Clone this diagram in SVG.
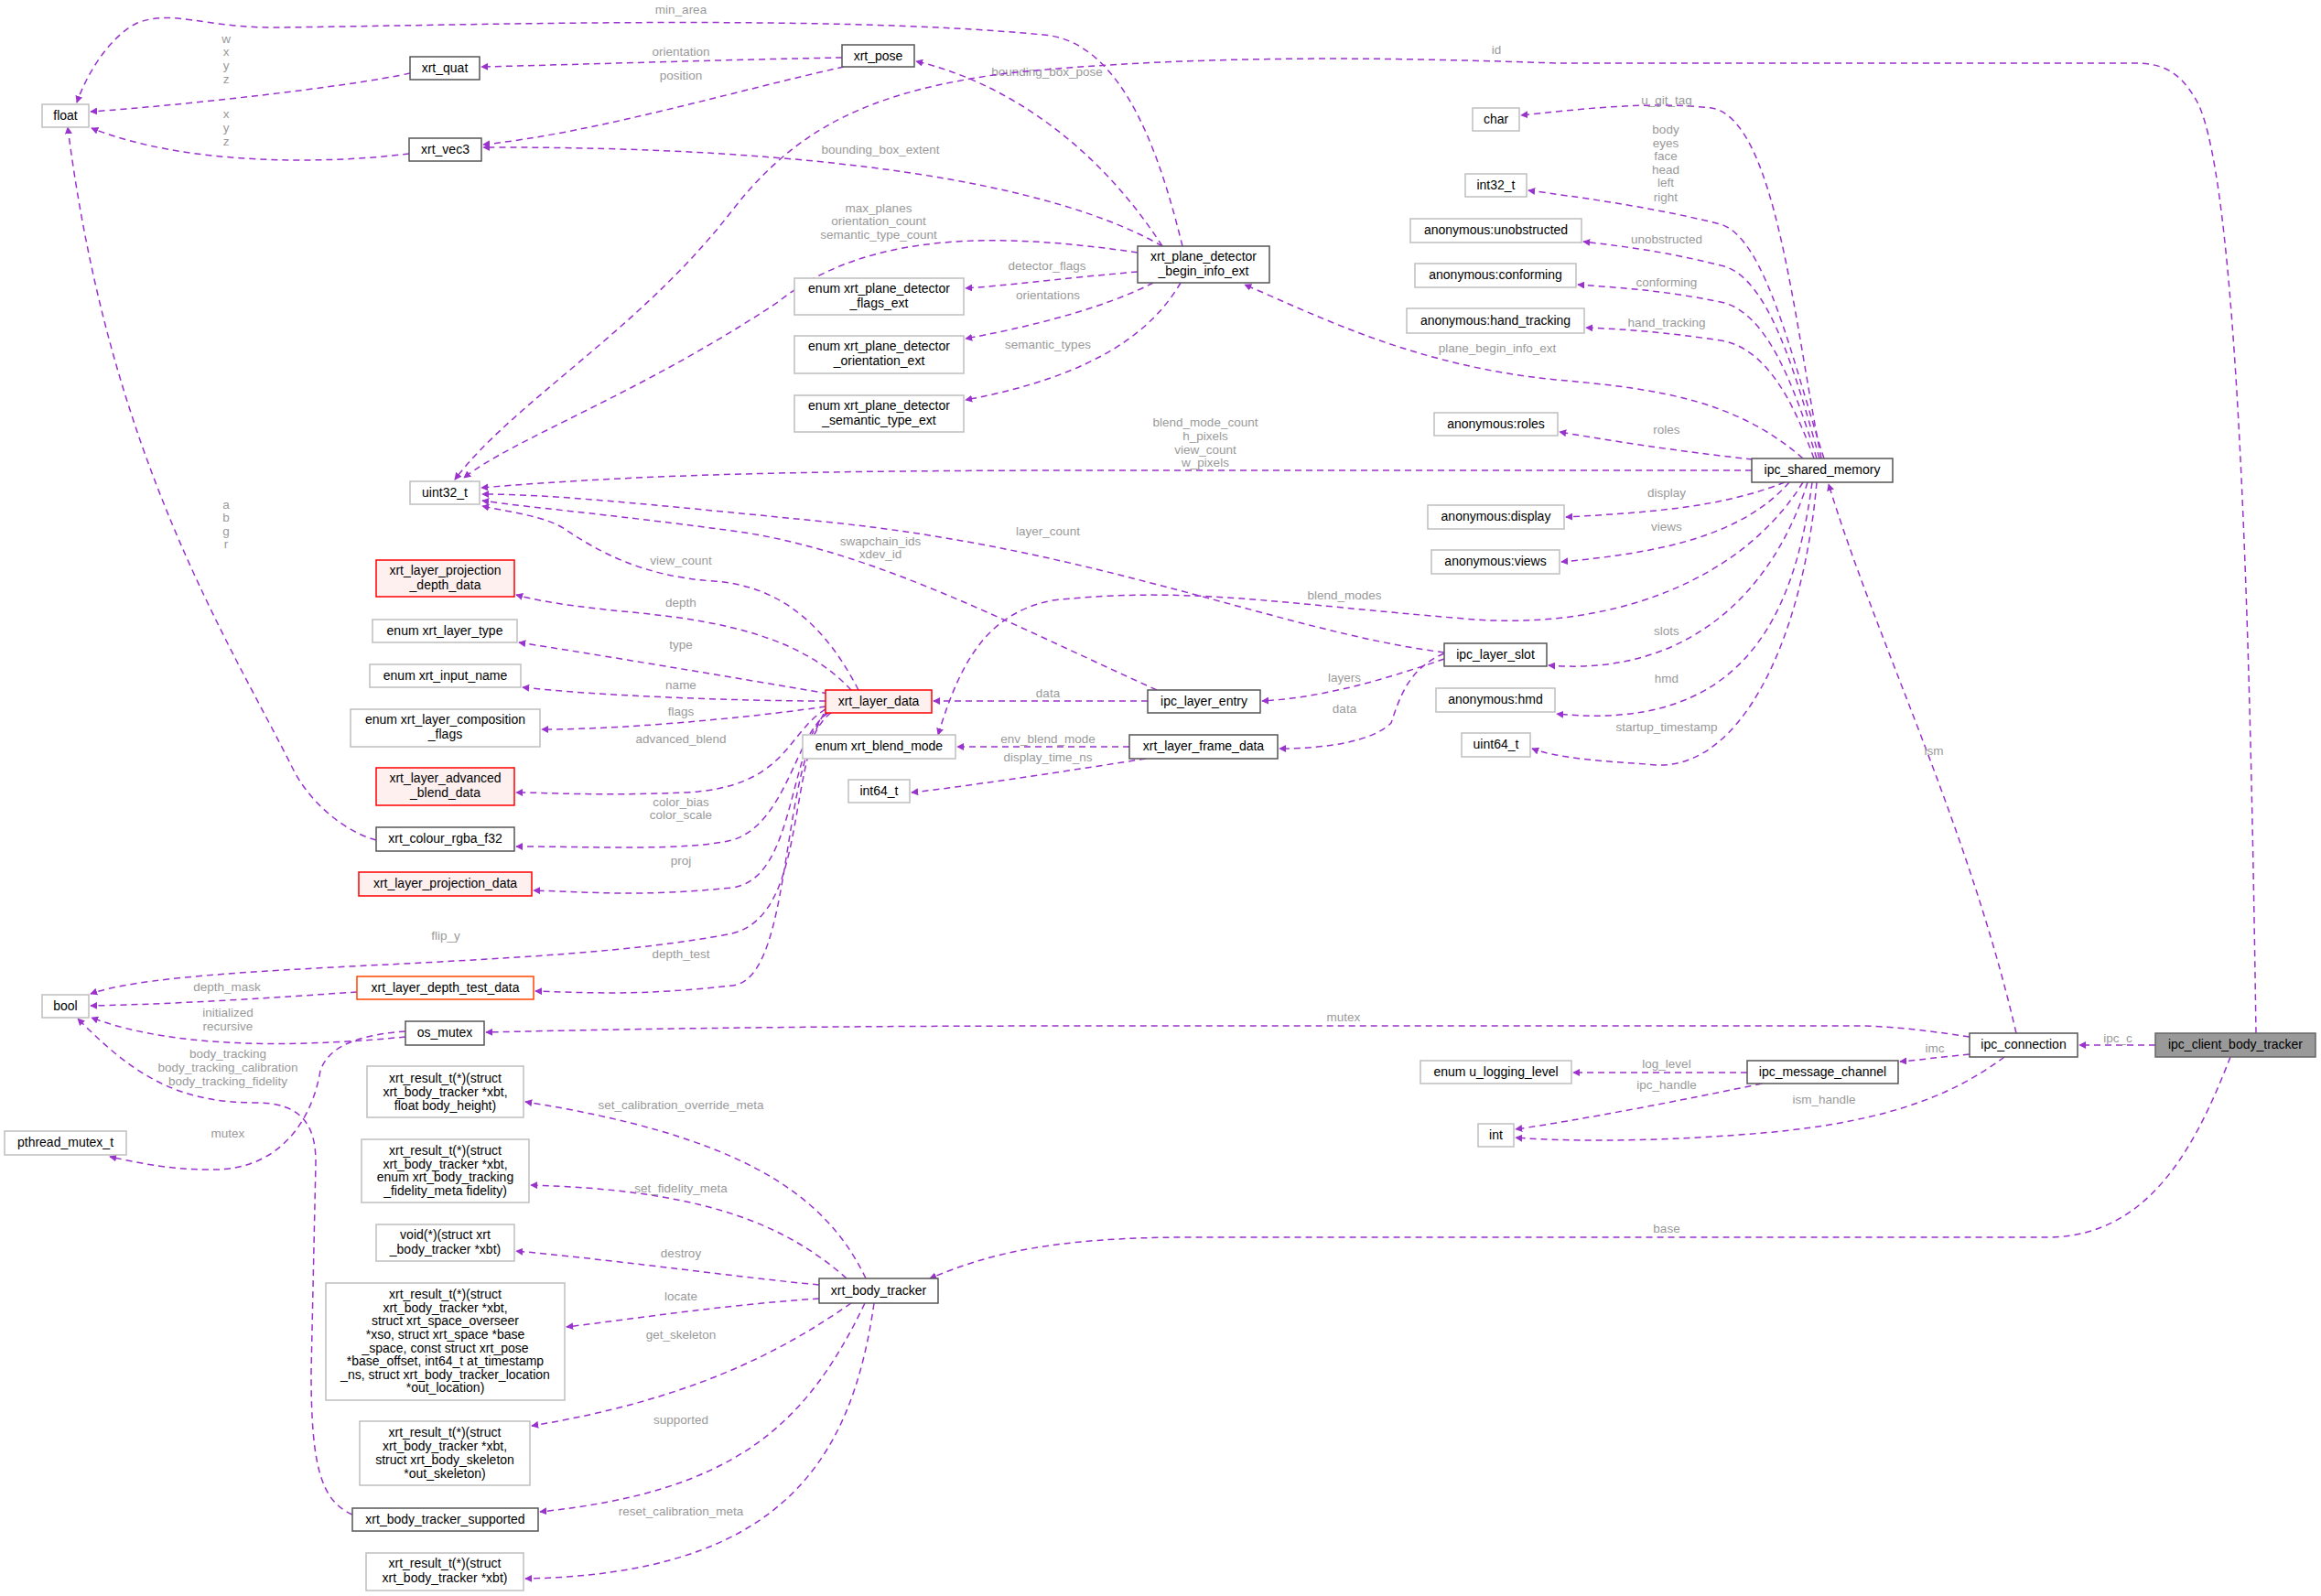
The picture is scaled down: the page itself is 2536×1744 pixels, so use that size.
<svg xmlns="http://www.w3.org/2000/svg" width="2536" height="1744" viewBox="0 0 2536 1744">
<style>
text{font-family:"Liberation Sans",Arial,sans-serif}
.n text{font-size:14px;fill:#000;text-anchor:middle}
.g rect{fill:#fff;stroke:#bfbfbf;stroke-width:1.5}
.d rect{fill:#fff;stroke:#555;stroke-width:1.5}
.r rect{fill:#fff0f0;stroke:#ff0000;stroke-width:1.5}
.o rect{fill:#fff;stroke:#ff4500;stroke-width:1.5}
.e path{fill:none;stroke:#9a32cd;stroke-width:1.5;stroke-dasharray:7,5;marker-end:url(#a)}
.e text{font-size:13.5px;fill:#9a9a9a;text-anchor:middle}
</style>
<defs><marker id="a" viewBox="0 0 10 10" refX="9" refY="5" markerWidth="8" markerHeight="8" orient="auto" markerUnits="userSpaceOnUse"><path d="M0,0 L10,5 L0,10 z" fill="#9a32cd"/></marker></defs>
<rect width="2536" height="1744" fill="#fff"/>
<g class="e" id="edges">
<path d="M1292,269 C1270,180 1230,45 1140,38 C900,15 500,28 300,30 C220,30 190,10 150,25 C120,40 95,80 84,112"/><text x="744" y="15">min_area</text>
<path d="M448,80 C380,95 200,115 99,122"/><text x="247" y="47">w</text><text x="247" y="61">x</text><text x="247" y="76">y</text><text x="247" y="91">z</text>
<path d="M447,168 C350,180 200,180 100,140"/><text x="247" y="129">x</text><text x="247" y="144">y</text><text x="247" y="159">z</text>
<path d="M920,63 C800,65 650,70 526,73"/><text x="744" y="61">orientation</text>
<path d="M922,73 C800,100 650,145 528,158"/><text x="744" y="87">position</text>
<path d="M1270,269 C1200,160 1100,90 1001,67"/><text x="1144" y="83">bounding_box_pose</text>
<path d="M1270,269 C1150,200 900,160 528,161"/><text x="962" y="168">bounding_box_extent</text>
<path d="M1243,276 C1100,255 950,250 850,330 C700,430 560,480 507,522"/><text x="960" y="232">max_planes</text><text x="960" y="246">orientation_count</text><text x="960" y="261">semantic_type_count</text>
<path d="M1243,297 C1150,305 1100,312 1055,315"/><text x="1144" y="295">detector_flags</text>
<path d="M1260,309 C1200,340 1110,360 1055,370"/><text x="1145" y="327">orientations</text>
<path d="M1290,309 C1260,360 1200,410 1055,437"/><text x="1145" y="381">semantic_types</text>
<path d="M2465,1129 C2460,800 2450,200 2400,110 C2380,75 2360,69 2330,69 L1700,69 C1500,62 1300,60 1100,80 C950,100 870,140 800,230 C700,360 560,440 497,524"/><text x="1635" y="59">id</text>
<path d="M1990,501 C1960,350 1940,130 1870,118 C1800,110 1720,120 1662,126"/><text x="1821" y="114">u_git_tag</text>
<path d="M1993,501 C1960,400 1930,260 1880,245 C1800,225 1720,215 1670,208"/><text x="1820" y="146">body</text><text x="1820" y="161">eyes</text><text x="1820" y="175">face</text><text x="1820" y="190">head</text><text x="1820" y="204">left</text><text x="1820" y="220">right</text>
<path d="M1988,501 C1960,400 1930,300 1880,290 C1820,275 1780,270 1730,264"/><text x="1821" y="266">unobstructed</text>
<path d="M1985,501 C1960,420 1930,340 1880,330 C1820,318 1780,315 1724,311"/><text x="1821" y="313">conforming</text>
<path d="M1982,501 C1960,440 1930,380 1880,372 C1820,363 1780,360 1733,358"/><text x="1821" y="357">hand_tracking</text>
<path d="M1970,501 C1900,440 1820,425 1700,415 C1550,400 1450,350 1360,311"/><text x="1636" y="385">plane_begin_info_ext</text>
<path d="M1915,502 C1850,495 1780,485 1704,472"/><text x="1821" y="474">roles</text>
<path d="M1914,514 L1200,514 C900,514 700,518 526,533"/><text x="1317" y="466">blend_mode_count</text><text x="1317" y="481">h_pixels</text><text x="1317" y="496">view_count</text><text x="1317" y="510">w_pixels</text>
<path d="M1950,527 C1880,555 1800,560 1711,565"/><text x="1821" y="543">display</text>
<path d="M1955,527 C1900,590 1800,605 1706,614"/><text x="1821" y="580">views</text>
<path d="M1970,527 C1900,640 1750,690 1600,676 C1400,660 1300,640 1150,656 C1080,670 1050,720 1025,803"/><text x="1469" y="655">blend_modes</text>
<path d="M1975,527 C1940,640 1850,740 1692,727"/><text x="1821" y="694">slots</text>
<path d="M1980,527 C1960,680 1900,800 1701,780"/><text x="1821" y="746">hmd</text>
<path d="M1985,527 C1970,700 1900,850 1800,835 C1750,832 1700,828 1674,818"/><text x="1821" y="799">startup_timestamp</text>
<path d="M2203,1129 C2150,900 2050,700 1998,529"/><text x="2113" y="825">ism</text>
<path d="M2355,1142 L2272,1142"/><text x="2314" y="1139">ipc_c</text>
<path d="M2152,1133 C2100,1125 2060,1121 2030,1121 L1200,1121 C900,1121 700,1124 531,1128"/><text x="1468" y="1116">mutex</text>
<path d="M2152,1152 C2120,1155 2100,1158 2076,1160"/><text x="2114" y="1150">imc</text>
<path d="M1909,1172 L1719,1172"/><text x="1821" y="1167">log_level</text>
<path d="M1925,1184 C1850,1200 1720,1225 1656,1234"/><text x="1821" y="1190">ipc_handle</text>
<path d="M2190,1155 C2130,1200 2050,1230 1900,1240 C1800,1248 1700,1247 1656,1243"/><text x="1993" y="1206">ism_handle</text>
<path d="M2437,1155 C2400,1250 2350,1350 2240,1352 L1300,1352 C1150,1352 1080,1370 1016,1397"/><text x="1821" y="1347">base</text>
<path d="M938,754 C900,680 850,640 780,635 C700,630 650,600 620,580 C600,565 560,560 527,553"/><text x="744" y="617">view_count</text>
<path d="M930,754 C880,700 800,680 700,670 C650,665 600,660 564,650"/><text x="744" y="663">depth</text>
<path d="M905,758 C800,740 650,715 567,702"/><text x="744" y="709">type</text>
<path d="M902,766 C800,766 650,760 571,751"/><text x="744" y="753">name</text>
<path d="M902,772 C850,780 700,797 592,797"/><text x="744" y="782">flags</text>
<path d="M902,775 C860,800 860,860 750,866 C650,870 600,866 564,866"/><text x="744" y="812">advanced_blend</text>
<path d="M905,779 C870,800 860,900 800,918 C750,930 650,925 564,925"/><text x="744" y="881">color_bias</text><text x="744" y="895">color_scale</text>
<path d="M903,779 C860,820 870,960 800,970 C700,980 650,975 583,973"/><text x="744" y="945">proj</text>
<path d="M900,780 C860,850 880,1000 800,1020 C600,1060 200,1050 99,1086"/><text x="487" y="1027">flip_y</text>
<path d="M908,779 C850,820 870,1070 800,1077 C700,1088 650,1085 585,1083"/><text x="744" y="1047">depth_test</text>
<path d="M390,1084 C300,1090 200,1097 99,1099"/><text x="248" y="1083">depth_mask</text>
<path d="M443,1133 C350,1142 200,1150 100,1112"/><text x="249" y="1111">initialized</text><text x="249" y="1126">recursive</text>
<path d="M443,1127 C400,1130 360,1140 350,1170 C340,1230 300,1280 230,1278 C180,1278 150,1270 120,1264"/><text x="249" y="1243">mutex</text>
<path d="M385,1655 C350,1640 340,1600 340,1500 L345,1270 C345,1230 330,1205 280,1205 C200,1205 150,1180 85,1113"/><text x="249" y="1156">body_tracking</text><text x="249" y="1171">body_tracking_calibration</text><text x="249" y="1186">body_tracking_fidelity</text>
<path d="M1254,766 L1020,766"/><text x="1145" y="762">data</text>
<path d="M1264,754 C1100,680 950,600 800,580 C650,560 580,555 527,547"/><text x="962" y="596">swapchain_ids</text><text x="962" y="610">xdev_id</text>
<path d="M1578,720 C1520,740 1450,762 1379,766"/><text x="1469" y="745">layers</text>
<path d="M1578,714 C1540,730 1530,760 1520,790 C1500,810 1450,818 1398,818"/><text x="1469" y="779">data</text>
<path d="M1578,713 C1400,690 1200,600 900,570 C700,550 600,540 527,540"/><text x="1145" y="585">layer_count</text>
<path d="M1234,816 L1046,816"/><text x="1145" y="812">env_blend_mode</text>
<path d="M1252,829 C1150,845 1050,860 996,866"/><text x="1145" y="832">display_time_ns</text>
<path d="M411,918 C380,910 340,880 320,840 C250,700 120,500 74,139"/><text x="247" y="556">a</text><text x="247" y="570">b</text><text x="247" y="585">g</text><text x="247" y="599">r</text>
<path d="M946,1397 C900,1300 800,1240 574,1204"/><text x="744" y="1212">set_calibration_override_meta</text>
<path d="M925,1397 C850,1330 750,1300 580,1295"/><text x="744" y="1303">set_fidelity_meta</text>
<path d="M895,1404 C800,1395 700,1380 564,1367"/><text x="744" y="1374">destroy</text>
<path d="M895,1419 C800,1425 700,1440 619,1450"/><text x="744" y="1421">locate</text>
<path d="M930,1424 C850,1480 750,1530 581,1558"/><text x="744" y="1463">get_skeleton</text>
<path d="M945,1424 C880,1560 800,1630 590,1652"/><text x="744" y="1556">supported</text>
<path d="M955,1424 C930,1600 850,1720 574,1725"/><text x="744" y="1656">reset_calibration_meta</text>
</g>
<g id="float" class="n g"><rect x="46" y="114" width="51" height="25"/><text x="71.5" y="131">float</text></g>
<g id="xrt_quat" class="n d"><rect x="448" y="62" width="76" height="25"/><text x="486" y="79">xrt_quat</text></g>
<g id="xrt_vec3" class="n d"><rect x="447" y="151" width="79" height="25"/><text x="486.5" y="168">xrt_vec3</text></g>
<g id="xrt_pose" class="n d"><rect x="920" y="49" width="79" height="24"/><text x="959.5" y="66">xrt_pose</text></g>
<g id="plane" class="n d"><rect x="1243" y="269" width="144" height="40"/><text x="1315" y="285">xrt_plane_detector</text><text x="1315" y="301">_begin_info_ext</text></g>
<g id="flags_ext" class="n g"><rect x="868" y="304" width="185" height="40"/><text x="960.5" y="320">enum xrt_plane_detector</text><text x="960.5" y="336">_flags_ext</text></g>
<g id="orient_ext" class="n g"><rect x="868" y="367" width="185" height="41"/><text x="960.5" y="383">enum xrt_plane_detector</text><text x="960.5" y="399">_orientation_ext</text></g>
<g id="sem_ext" class="n g"><rect x="868" y="432" width="185" height="40"/><text x="960.5" y="448">enum xrt_plane_detector</text><text x="960.5" y="464">_semantic_type_ext</text></g>
<g id="uint32_t" class="n g"><rect x="448" y="526" width="76" height="25"/><text x="486" y="543">uint32_t</text></g>
<g id="proj_depth" class="n r"><rect x="411" y="612" width="151" height="40"/><text x="486.5" y="628">xrt_layer_projection</text><text x="486.5" y="644">_depth_data</text></g>
<g id="layer_type" class="n g"><rect x="407" y="677" width="158" height="25"/><text x="486" y="694">enum xrt_layer_type</text></g>
<g id="input_name" class="n g"><rect x="404" y="726" width="165" height="25"/><text x="486.5" y="743">enum xrt_input_name</text></g>
<g id="comp_flags" class="n g"><rect x="383" y="775" width="207" height="41"/><text x="486.5" y="791">enum xrt_layer_composition</text><text x="486.5" y="807">_flags</text></g>
<g id="adv_blend" class="n r"><rect x="411" y="839" width="151" height="41"/><text x="486.5" y="855">xrt_layer_advanced</text><text x="486.5" y="871">_blend_data</text></g>
<g id="colour" class="n d"><rect x="411" y="904" width="151" height="26"/><text x="486.5" y="921">xrt_colour_rgba_f32</text></g>
<g id="proj_data" class="n r"><rect x="392" y="953" width="189" height="26"/><text x="486.5" y="970">xrt_layer_projection_data</text></g>
<g id="depth_test" class="n o"><rect x="390" y="1067" width="193" height="25"/><text x="486.5" y="1084">xrt_layer_depth_test_data</text></g>
<g id="bool" class="n g"><rect x="46" y="1087" width="51" height="25"/><text x="71.5" y="1104">bool</text></g>
<g id="os_mutex" class="n d"><rect x="443" y="1116" width="86" height="26"/><text x="486" y="1133">os_mutex</text></g>
<g id="pthread" class="n g"><rect x="5" y="1236" width="133" height="26"/><text x="71.5" y="1253">pthread_mutex_t</text></g>
<g id="xrt_layer_data" class="n r"><rect x="902" y="754" width="116" height="25"/><text x="960" y="771">xrt_layer_data</text></g>
<g id="ipc_layer_entry" class="n d"><rect x="1254" y="754" width="123" height="25"/><text x="1315.5" y="771">ipc_layer_entry</text></g>
<g id="blend_mode" class="n g"><rect x="877" y="803" width="167" height="26"/><text x="960.5" y="820">enum xrt_blend_mode</text></g>
<g id="frame_data" class="n d"><rect x="1234" y="803" width="162" height="26"/><text x="1315" y="820">xrt_layer_frame_data</text></g>
<g id="int64_t" class="n g"><rect x="927" y="852" width="67" height="25"/><text x="960.5" y="869">int64_t</text></g>
<g id="char" class="n g"><rect x="1609" y="118" width="51" height="25"/><text x="1634.5" y="135">char</text></g>
<g id="int32_t" class="n g"><rect x="1601" y="190" width="67" height="25"/><text x="1634.5" y="207">int32_t</text></g>
<g id="unobstructed" class="n g"><rect x="1541" y="239" width="187" height="26"/><text x="1634.5" y="256">anonymous:unobstructed</text></g>
<g id="conforming" class="n g"><rect x="1546" y="288" width="176" height="26"/><text x="1634" y="305">anonymous:conforming</text></g>
<g id="hand_tracking" class="n g"><rect x="1537" y="337" width="194" height="27"/><text x="1634" y="355">anonymous:hand_tracking</text></g>
<g id="roles" class="n g"><rect x="1567" y="451" width="135" height="25"/><text x="1634.5" y="468">anonymous:roles</text></g>
<g id="shm" class="n d"><rect x="1914" y="501" width="154" height="26"/><text x="1991" y="518">ipc_shared_memory</text></g>
<g id="display" class="n g"><rect x="1560" y="552" width="149" height="26"/><text x="1634.5" y="569">anonymous:display</text></g>
<g id="views" class="n g"><rect x="1564" y="601" width="140" height="26"/><text x="1634" y="618">anonymous:views</text></g>
<g id="ipc_layer_slot" class="n d"><rect x="1578" y="703" width="112" height="25"/><text x="1634" y="720">ipc_layer_slot</text></g>
<g id="hmd" class="n g"><rect x="1569" y="752" width="130" height="26"/><text x="1634" y="769">anonymous:hmd</text></g>
<g id="uint64_t" class="n g"><rect x="1597" y="801" width="75" height="26"/><text x="1634.5" y="818">uint64_t</text></g>
<g id="ipc_connection" class="n d"><rect x="2152" y="1129" width="118" height="26"/><text x="2211" y="1146">ipc_connection</text></g>
<g id="ipc_client_body_tracker"><rect x="2355" y="1129" width="175" height="26" fill="#999" stroke="#666" stroke-width="1.5"/><text x="2442.5" y="1146" font-size="14" text-anchor="middle">ipc_client_body_tracker</text></g>
<g id="log_level" class="n g"><rect x="1552" y="1159" width="165" height="25"/><text x="1634.5" y="1176">enum u_logging_level</text></g>
<g id="msg_channel" class="n d"><rect x="1909" y="1159" width="165" height="25"/><text x="1991.5" y="1176">ipc_message_channel</text></g>
<g id="int" class="n g"><rect x="1615" y="1228" width="39" height="25"/><text x="1634.5" y="1245">int</text></g>
<g id="set_calib" class="n g"><rect x="401" y="1165" width="171" height="56"/><text x="486.5" y="1183">xrt_result_t(*)(struct</text><text x="486.5" y="1198">xrt_body_tracker *xbt,</text><text x="486.5" y="1213">float body_height)</text></g>
<g id="fidelity" class="n g"><rect x="395" y="1245" width="183" height="69"/><text x="486.5" y="1262">xrt_result_t(*)(struct</text><text x="486.5" y="1277">xrt_body_tracker *xbt,</text><text x="486.5" y="1291">enum xrt_body_tracking</text><text x="486.5" y="1306">_fidelity_meta fidelity)</text></g>
<g id="destroy" class="n g"><rect x="411" y="1338" width="151" height="40"/><text x="486.5" y="1354">void(*)(struct xrt</text><text x="486.5" y="1370">_body_tracker *xbt)</text></g>
<g id="locate" class="n g"><rect x="356" y="1402" width="261" height="128"/><text x="486.5" y="1419">xrt_result_t(*)(struct</text><text x="486.5" y="1434">xrt_body_tracker *xbt,</text><text x="486.5" y="1448">struct xrt_space_overseer</text><text x="486.5" y="1463">*xso, struct xrt_space *base</text><text x="486.5" y="1478">_space, const struct xrt_pose</text><text x="486.5" y="1492">*base_offset, int64_t at_timestamp</text><text x="486.5" y="1507">_ns, struct xrt_body_tracker_location</text><text x="486.5" y="1521">*out_location)</text></g>
<g id="skeleton" class="n g"><rect x="393" y="1553" width="186" height="70"/><text x="486" y="1570">xrt_result_t(*)(struct</text><text x="486" y="1585">xrt_body_tracker *xbt,</text><text x="486" y="1600">struct xrt_body_skeleton</text><text x="486" y="1615">*out_skeleton)</text></g>
<g id="supported" class="n d"><rect x="385" y="1648" width="203" height="25"/><text x="486.5" y="1665">xrt_body_tracker_supported</text></g>
<g id="reset" class="n g"><rect x="400" y="1697" width="172" height="41"/><text x="486" y="1713">xrt_result_t(*)(struct</text><text x="486" y="1729">xrt_body_tracker *xbt)</text></g>
<g id="xrt_body_tracker" class="n d"><rect x="895" y="1397" width="130" height="27"/><text x="960" y="1415">xrt_body_tracker</text></g>
</svg>
